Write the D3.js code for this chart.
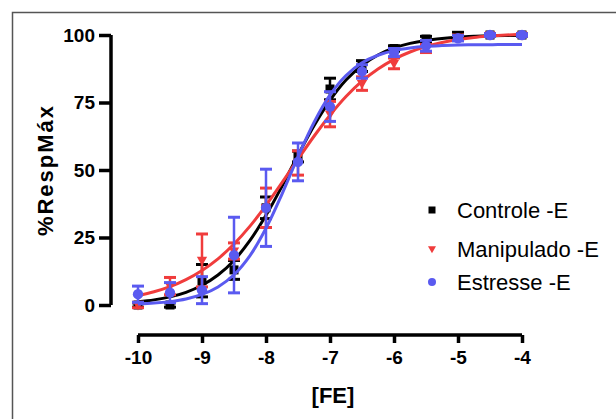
<!DOCTYPE html>
<html>
<head>
<meta charset="utf-8">
<script src="https://cdn.jsdelivr.net/npm/d3@7"></script>
<style>
  html, body { margin: 0; padding: 0; background: #fff; }
  svg { display: block; }
  text { font-family: "Liberation Sans", Arial, sans-serif; }
</style>
</head>
<body>
<svg id="chart" width="616" height="419"></svg>
<script>
// ---- data ----
const logConc = [-10, -9.5, -9, -8.5, -8, -7.5, -7, -6.5, -6, -5.5, -5, -4.5, -4];

const controleMean = [0, 0, 9, 13, 36, 55, 80, 88.5, 95, 98.5, 99.5, 100, 100];
const controleSem  = [0.8, 0.8, 6, 3.5, 4, 2, 4, 2, 1, 1, 1.5, 0.5, 0.5];

const manipuladoMean = [0, 7, 16.5, 20, 36, 52.6, 70.7, 82, 89.5, 95, 99, 100, 100];
const manipuladoSem  = [1, 3.2, 9.8, 3, 7.3, 4.5, 4.7, 2.5, 2, 1.5, 1, 0.5, 0.5];

const estresseMean = [4, 4.6, 5.5, 18.5, 36, 53, 73.5, 86.5, 93.5, 96, 98.8, 100, 100];
const estresseSem  = [3, 3.7, 5, 14, 14.3, 7, 5.5, 2.5, 1.5, 2, 1, 0.5, 0.5];

// fitted curves, every 0.25 log unit
const curveX = [-10, -9.75, -9.5, -9.25, -9, -8.75, -8.5, -8.25, -8, -7.75, -7.5, -7.25, -7,
                -6.75, -6.5, -6.25, -6, -5.75, -5.5, -5.25, -5, -4.75, -4.5, -4.25, -4];
const controleCurve = [1.2, 1.9, 3.0, 4.7, 7.3, 11.1, 16.5, 23.9, 33.2, 44.0, 55.5, 66.4, 75.8,
                       83.3, 88.7, 92.6, 95.2, 96.9, 98.0, 98.7, 99.2, 99.5, 99.7, 99.8, 99.9];
const manipuladoCurve = [3.5, 4.9, 6.8, 9.4, 12.8, 17.1, 22.6, 29.2, 36.9, 45.3, 54.0, 62.5, 70.3,
                         77.2, 82.9, 87.4, 91.0, 93.7, 95.7, 97.2, 98.3, 99.1, 99.6, 100.0, 100.3];
const estresseCurve = [0.4, 0.7, 1.25, 2.2, 3.9, 6.7, 11.2, 18.3, 28.4, 41.1, 54.9, 67.6, 77.8,
                       85.0, 89.7, 92.5, 94.2, 95.2, 95.8, 96.1, 96.3, 96.4, 96.4, 96.5, 96.5];

const seriesNames = ["Controle -E", "Manipulado -E", "Estresse -E"];
const seriesColors = ["#000000", "#f03c3c", "#5a5af0"];
const xTicks = [-10, -9, -8, -7, -6, -5, -4];
const yTicks = [0, 25, 50, 75, 100];
const xTitle = "[FE]";
const yTitle = "%RespMáx";

const series = [
  { name: seriesNames[0], color: seriesColors[0], mean: controleMean, sem: controleSem, curve: controleCurve, shape: "square" },
  { name: seriesNames[1], color: seriesColors[1], mean: manipuladoMean, sem: manipuladoSem, curve: manipuladoCurve, shape: "triangle" },
  { name: seriesNames[2], color: seriesColors[2], mean: estresseMean, sem: estresseSem, curve: estresseCurve, shape: "circle" }
];

// ---- drawing ----
const svg = d3.select("#chart");
const x = d3.scaleLinear().domain([-10, -4]).range([138, 522]);
const y = d3.scaleLinear().domain([0, 100]).range([305, 35]);

// outer frame
svg.append("rect").attr("x", 12.5).attr("y", 12.5).attr("width", 640).attr("height", 440)
  .attr("fill", "none").attr("stroke", "#555").attr("stroke-width", 1.5);

// axes
const yAxis = svg.append("g").attr("transform", "translate(111,0)")
  .call(d3.axisLeft(y).tickValues(yTicks).tickSize(12).tickSizeOuter(0).tickPadding(4));
const xAxis = svg.append("g").attr("transform", "translate(0,335)")
  .call(d3.axisBottom(x).tickValues(xTicks).tickSize(8).tickSizeOuter(0).tickPadding(8)
    .tickFormat(d3.format("d")));
[xAxis, yAxis].forEach(g => {
  g.select(".domain").attr("stroke", "#000").attr("stroke-width", 3.5);
  g.selectAll(".tick line").attr("stroke", "#000").attr("stroke-width", 3.5);
  g.selectAll(".tick text").attr("fill", "#000").attr("font-size", 19).attr("font-weight", "bold")
    .attr("font-family", "'Liberation Sans', Arial, sans-serif");
});
xAxis.select(".domain").attr("d", `M${x(-10)},0H${x(-4)}`);
yAxis.select(".domain").attr("d", `M0,${y(0)}V${y(100)}`);
xAxis.selectAll(".tick text").text(d => d3.format("d")(d).replace("−", "-"));

// titles
svg.append("text").attr("x", 333).attr("y", 403).attr("text-anchor", "middle")
  .attr("font-size", 22).attr("font-weight", "bold").text(xTitle);
svg.append("text").attr("transform", "translate(53,170) rotate(-90)").attr("text-anchor", "middle")
  .attr("font-size", 22).attr("font-weight", "bold").attr("letter-spacing", 2).text(yTitle);

const line = d3.line().x((d, i) => x(curveX[i])).y(d => y(d)).curve(d3.curveCatmullRom);

function marker(g, shape, cx, cy, s, color) {
  if (shape === "square") {
    g.append("rect").attr("x", cx - s).attr("y", cy - s).attr("width", 2 * s).attr("height", 2 * s).attr("fill", color);
  } else if (shape === "triangle") {
    const h = s * 1.15;
    g.append("path").attr("d", `M${cx - h},${cy - s * 0.8}L${cx + h},${cy - s * 0.8}L${cx},${cy + s * 1.2}Z`).attr("fill", color);
  } else {
    g.append("circle").attr("cx", cx).attr("cy", cy).attr("r", s * 1.15).attr("fill", color);
  }
}

series.forEach(s => {
  const g = svg.append("g");
  // error bars
  s.mean.forEach((m, i) => {
    const cx = x(logConc[i]);
    const top = y(m + s.sem[i]), bot = y(m - s.sem[i]);
    g.append("line").attr("x1", cx).attr("x2", cx).attr("y1", top).attr("y2", bot)
      .attr("stroke", s.color).attr("stroke-width", 2.5);
    [top, bot].forEach(v => g.append("line").attr("x1", cx - 6).attr("x2", cx + 6).attr("y1", v).attr("y2", v)
      .attr("stroke", s.color).attr("stroke-width", 3));
  });
  // fitted curve
  g.append("path").datum(s.curve).attr("d", line).attr("fill", "none")
    .attr("stroke", s.color).attr("stroke-width", 3);
  // markers
  s.mean.forEach((m, i) => marker(g, s.shape, x(logConc[i]), y(m), 4.5, s.color));
});

// legend
const legendY = [218, 257, 290];
series.forEach((s, i) => {
  const g = svg.append("g");
  marker(g, s.shape, 432, legendY[i] - 8, 3.5, s.color);
  g.append("text").attr("x", 457).attr("y", legendY[i]).attr("font-size", 22).attr("fill", "#000").text(s.name);
});
</script>
</body>
</html>
